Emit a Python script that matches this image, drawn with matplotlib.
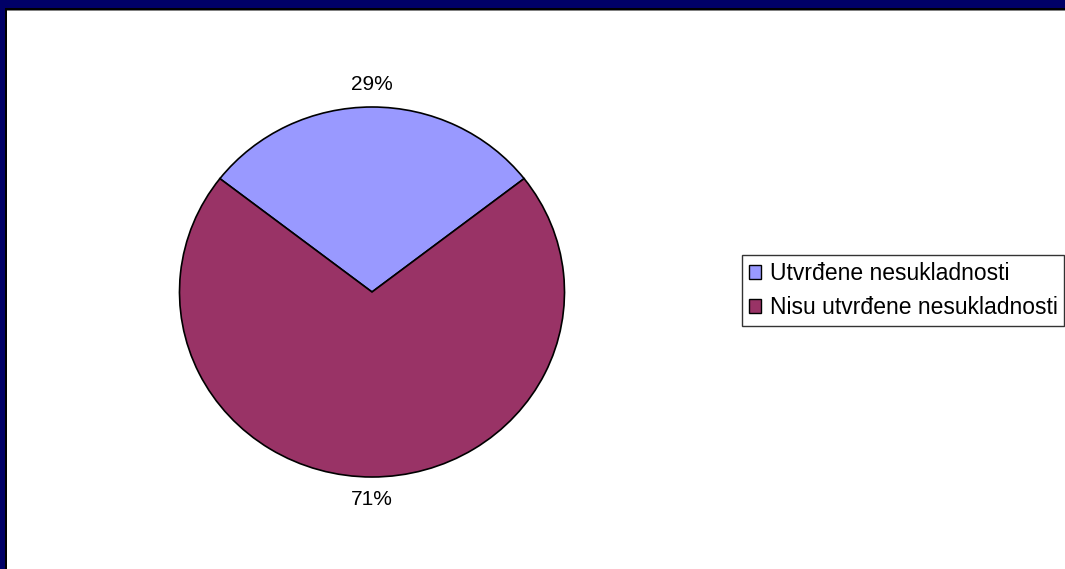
import matplotlib.pyplot as plt
from matplotlib.patches import Rectangle

LABELS = ['Utvrđene nesukladnosti', 'Nisu utvrđene nesukladnosti']
VALUES = [29, 71]
COLORS = ['#9999FF', '#993366']

W, H = 1065, 569

plt.rcParams['font.family'] = ['Liberation Sans', 'DejaVu Sans']

fig = plt.figure(figsize=(W / 100, H / 100), dpi=100)
fig.patch.set_facecolor('white')


def px_rect(x, y, w, h, color):
    # rectangle in pixel coords measured from top-left
    fig.patches.append(Rectangle((x / W, 1 - (y + h) / H), w / W, h / H,
                                 transform=fig.transFigure, facecolor=color,
                                 edgecolor='none', zorder=10))


# frame along top and left edges
px_rect(0, 0, W, 8, '#000066')
px_rect(0, 8, W, 2, '#000000')
px_rect(0, 10, W, 1, '#808080')
px_rect(0, 0, 5, H, '#000066')
px_rect(5, 8, 2, H, '#000000')

cx, cy, rx, ry = 372, 292, 192.5, 185
ax = fig.add_axes([(cx - rx) / W, 1 - (cy + ry) / H, 2 * rx / W, 2 * ry / H])
start = 90 - VALUES[0] / sum(VALUES) * 360 / 2
wedges, _, autotexts = ax.pie(VALUES, colors=COLORS, startangle=start,
                              autopct='%1.0f%%', pctdistance=1.12,
                              wedgeprops={'edgecolor': 'black', 'linewidth': 1.2},
                              textprops={'fontsize': 15})
ax.set_xlim(-1, 1)
ax.set_ylim(-1, 1)
ax.set_aspect('auto')
ax.axis('off')

leg = fig.legend(wedges, LABELS, loc='upper left',
                 bbox_to_anchor=(742 / W, 1 - 255 / H),
                 fontsize=16.5, frameon=True, fancybox=False, edgecolor='black',
                 handlelength=0.55, handleheight=0.55, handletextpad=0.35,
                 borderpad=0.3, labelspacing=0.5, borderaxespad=0)
leg.get_frame().set_linewidth(1.0)
for h in leg.legend_handles:
    h.set_edgecolor('black')
    h.set_linewidth(1.0)

fig.savefig('out.png', dpi=100)
